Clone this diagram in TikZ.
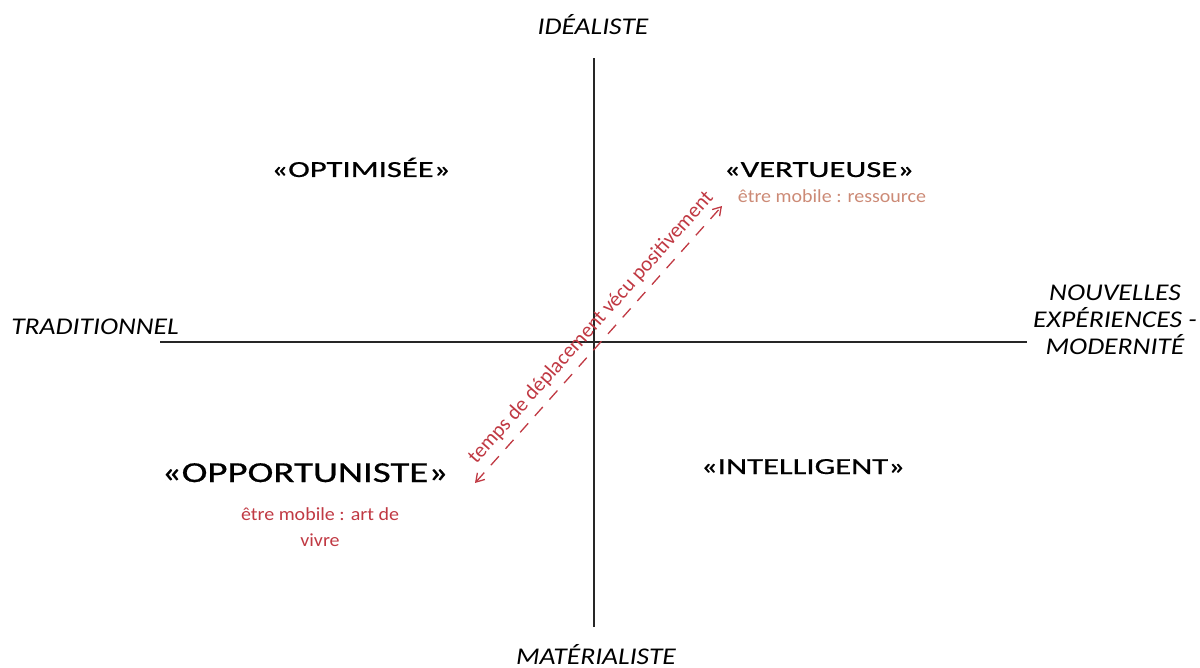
\documentclass[tikz,border=0pt]{standalone}
\usepackage{fontspec}
\setmainfont{Carlito}
\newfontfamily\titlefont[FakeBold=0.6]{Carlito}
\usepackage{tikz}
\usetikzlibrary{arrows.meta}
\tikzset{>={Straight Barb[length=8pt,width=10pt]}}
\definecolor{myred}{RGB}{192,57,67}
\definecolor{mysalmon}{RGB}{204,138,118}
\tikzstyle{axis}=[black!85,line width=1.2pt]
\tikzstyle{pole}=[anchor=base,inner sep=0pt,xscale=1.15,font=\fontsize{24}{27}\selectfont\itshape]
\tikzstyle{profil}=[anchor=base,inner sep=0pt,xscale=1.42,font=\titlefont\fontsize{23}{27}\selectfont]
\tikzstyle{profilbig}=[anchor=base,inner sep=0pt,xscale=1.34,font=\titlefont\fontsize{29}{34}\selectfont]
\tikzstyle{note}=[anchor=base,inner sep=0pt,xscale=1.08,font=\fontsize{18.5}{26}\selectfont]
\def\xmax{1200}
\def\ymax{668}

\begin{document}
\begin{tikzpicture}[x=1pt,y=-1pt]
  \useasboundingbox (0,0) rectangle (\xmax,\ymax);
  \coordinate (N) at (594,58);
  \coordinate (S) at (594,627);
  \coordinate (W) at (160,342);
  \coordinate (E) at (1027,342);
  \coordinate (lo) at (475,483);
  \coordinate (hi) at (722,206);

  % AXIS
  \draw[axis] (S) -- (N);
  \draw[axis] (W) -- (E);
  \node[pole] (ideal) at (593,35) {IDÉALISTE};
  \node[pole] (mater) at (596,664) {MATÉRIALISTE};
  \node[pole] (tradi) at (95,335) {TRADITIONNEL};
  \node[pole,anchor=center,align=center] (moder) at (1115,320)
    {NOUVELLES\\EXPÉRIENCES -\\MODERNITÉ};

  % PROFILS
  \node[profil] (optim) at (361,177) {«OPTIMISÉE»};
  \node[profil] (vertu) at (819,177) {«VERTUEUSE»};
  \node[profilbig] (oppor) at (305,482) {«OPPORTUNISTE»};
  \node[profil] (intel) at (803,474) {«INTELLIGENT»};
  \node[note,mysalmon] (ressource) at (832,203) {être mobile : ressource};
  \node[note,myred,align=center] (artvivre) at (320,546) {être mobile : art de\\vivre};

  % ARROW
  \draw[myred,line width=1.3pt,dash pattern=on 12pt off 10pt,<->] (lo) -- (hi)
    node[pos=0.52,sloped,above=7pt,inner sep=0pt,font=\fontsize{21}{25}\selectfont] (temps)
    {temps de déplacement vécu positivement};
\end{tikzpicture}
\end{document}
